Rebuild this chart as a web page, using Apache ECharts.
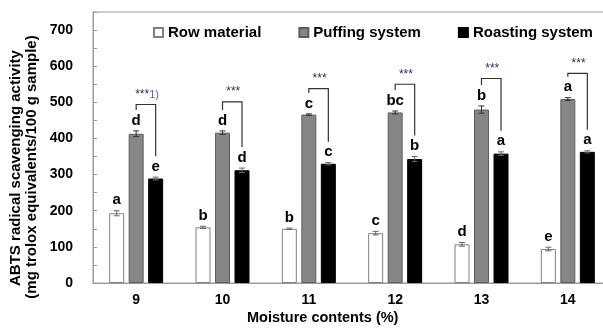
<!DOCTYPE html>
<html><head><meta charset="utf-8">
<script src="https://cdn.jsdelivr.net/npm/echarts@6/dist/echarts.min.js"></script>
<style>html,body{margin:0;padding:0;background:#fff}#c{width:603px;height:329px}</style>
</head><body><div id="c"></div>
<script>
var categories = ['9', '10', '11', '12', '13', '14'];
var seriesNames = ['Row material', 'Puffing system', 'Roasting system'];
var rowValues = [193, 154, 150, 138, 107, 94];
var rowErr = [7, 3, 2, 5, 5, 5];
var rowLetters = ['a', 'b', 'b', 'c', 'd', 'e'];
var puffValues = [413, 416, 466, 472, 480, 509];
var puffErr = [8, 5, 2, 4, 10, 4];
var puffLetters = ['d', 'd', 'c', 'bc', 'b', 'a'];
var roastValues = [289, 312, 330, 343, 358, 363];
var roastErr = [4, 6, 3, 7, 5, 3];
var roastLetters = ['e', 'd', 'c', 'b', 'a', 'a'];
var bracketTop = [494, 501, 538, 550, 566, 580];
var starLabels = ['***', '***', '***', '***', '***', '***'];
var yTicks = [0, 100, 200, 300, 400, 500, 600, 700];

var FONT = '"Liberation Sans", Arial, sans-serif';
var chart = echarts.init(document.getElementById('c'));

function errSeries(vals, errs, letters, offset, color) {
  var data = vals.map(function (v, i) { return [i, v, errs[i]]; });
  return {
    type: 'custom', coordinateSystem: 'cartesian2d', z: 5, silent: true,
    encode: { x: 0, y: 1 },
    data: data,
    renderItem: function (params, api) {
      var i = api.value(0), v = api.value(1), e = api.value(2);
      var top = api.coord([i, v + e]);
      var bot = api.coord([i, v - e]);
      var x = top[0] + offset;
      var cw = 3;
      return {
        type: 'group',
        children: [
          { type: 'line', shape: { x1: x, y1: top[1], x2: x, y2: bot[1] }, style: { stroke: color, lineWidth: 1 } },
          { type: 'line', shape: { x1: x - cw, y1: top[1], x2: x + cw, y2: top[1] }, style: { stroke: color, lineWidth: 1 } },
          { type: 'line', shape: { x1: x - cw, y1: bot[1], x2: x + cw, y2: bot[1] }, style: { stroke: color, lineWidth: 1 } },
          { type: 'text', x: x, y: top[1] - 3, style: { text: letters[params.dataIndex], font: 'bold 15px ' + FONT, fill: '#000', align: 'center', verticalAlign: 'bottom' } }
        ]
      };
    }
  };
}

var bracketData = bracketTop.map(function (t, i) {
  return [i, t, puffValues[i] + puffErr[i], roastValues[i] + roastErr[i]];
});

var option = {
  animation: false,
  backgroundColor: '#fff',
  grid: { left: 93, top: 12, width: 518, height: 271, outerBoundsMode: 'none', containLabel: false, show: true, borderColor: '#9a9a9a', borderWidth: 1, backgroundColor: 'transparent' },
  legend: {
    data: seriesNames, left: 148, top: 20, itemWidth: 9, itemHeight: 9, itemGap: 37,
    icon: 'rect',
    textStyle: { fontFamily: FONT, fontWeight: 'bold', fontSize: 15, color: '#000' }
  },
  title: {
    text: 'Moisture contents (%)', left: 247, top: 310, padding: 0,
    textStyle: { fontFamily: FONT, fontWeight: 'bold', fontSize: 14.5, color: '#000' }
  },
  graphic: [
    { type: 'text', x: 16, y: 168, rotation: Math.PI / 2, style: { text: 'ABTS radical scavenging activity', font: 'bold 15px ' + FONT, fill: '#000', align: 'center', verticalAlign: 'middle' } },
    { type: 'text', x: 32, y: 167, rotation: Math.PI / 2, style: { text: '(mg trolox equivalents/100 g sample)', font: 'bold 15px ' + FONT, fill: '#000', align: 'center', verticalAlign: 'middle' } }
  ],
  xAxis: {
    type: 'category', data: categories,
    axisLine: { lineStyle: { color: '#9a9a9a' } },
    axisTick: { inside: true, length: 5, lineStyle: { color: '#9a9a9a' } },
    axisLabel: { fontFamily: FONT, fontWeight: 'bold', fontSize: 14, color: '#000', margin: 10 }
  },
  yAxis: {
    type: 'value', min: 0, max: 750, interval: 50,
    axisLine: { show: true, lineStyle: { color: '#9a9a9a' } },
    axisTick: { show: true, inside: true, length: 4, lineStyle: { color: '#9a9a9a' } },
    splitLine: { show: false },
    axisLabel: {
      fontFamily: FONT, fontWeight: 'bold', fontSize: 14, color: '#000', margin: 20,
      formatter: function (v) { return yTicks.indexOf(v) >= 0 ? String(v) : ''; }
    }
  },
  series: [
    { name: seriesNames[0], type: 'bar', data: rowValues, barWidth: 15, barGap: '30%',
      itemStyle: { color: '#ffffff', borderColor: '#808080', borderWidth: 1 } },
    { name: seriesNames[1], type: 'bar', data: puffValues, barWidth: 15, barGap: '30%',
      itemStyle: { color: '#868686', borderColor: '#5e5e5e', borderWidth: 1 } },
    { name: seriesNames[2], type: 'bar', data: roastValues, barWidth: 15, barGap: '30%',
      itemStyle: { color: '#000000', borderColor: '#000000', borderWidth: 1 } },
    errSeries(rowValues, rowErr, rowLetters, -19.5, '#666'),
    errSeries(puffValues, puffErr, puffLetters, 0, '#333'),
    errSeries(roastValues, roastErr, roastLetters, 19.5, '#666'),
    {
      type: 'custom', coordinateSystem: 'cartesian2d', z: 6, silent: true,
      encode: { x: 0, y: 1 }, data: bracketData,
      renderItem: function (params, api) {
        var i = api.value(0);
        var t = api.coord([i, api.value(1)]);
        var l = api.coord([i, api.value(2)]);
        var r = api.coord([i, api.value(3)]);
        var xl = t[0], xr = t[0] + 19.5;
        var children = [
          { type: 'polyline', shape: { points: [[xl, l[1] - 21], [xl, t[1]], [xr, t[1]], [xr, r[1] - 21]] }, style: { stroke: '#333', lineWidth: 1.2, fill: null } }
        ];
        if (params.dataIndex === 0) {
          children.push({ type: 'text', x: xl - 1, y: t[1] - 10, style: { rich: { s: { fill: '#2b2f5e', font: '12px ' + FONT }, n: { fill: '#8a4fb0', font: '11px ' + FONT } }, text: '{s|' + starLabels[0] + '}{n|1)}', align: 'left', verticalAlign: 'middle' } });
        } else {
          children.push({ type: 'text', x: (xl + xr) / 2 + 1, y: t[1] - 10, style: { text: starLabels[params.dataIndex], font: '12px ' + FONT, fill: '#2b2f5e', align: 'center', verticalAlign: 'middle' } });
        }
        return { type: 'group', children: children };
      }
    }
  ]
};
chart.setOption(option);
</script></body></html>
